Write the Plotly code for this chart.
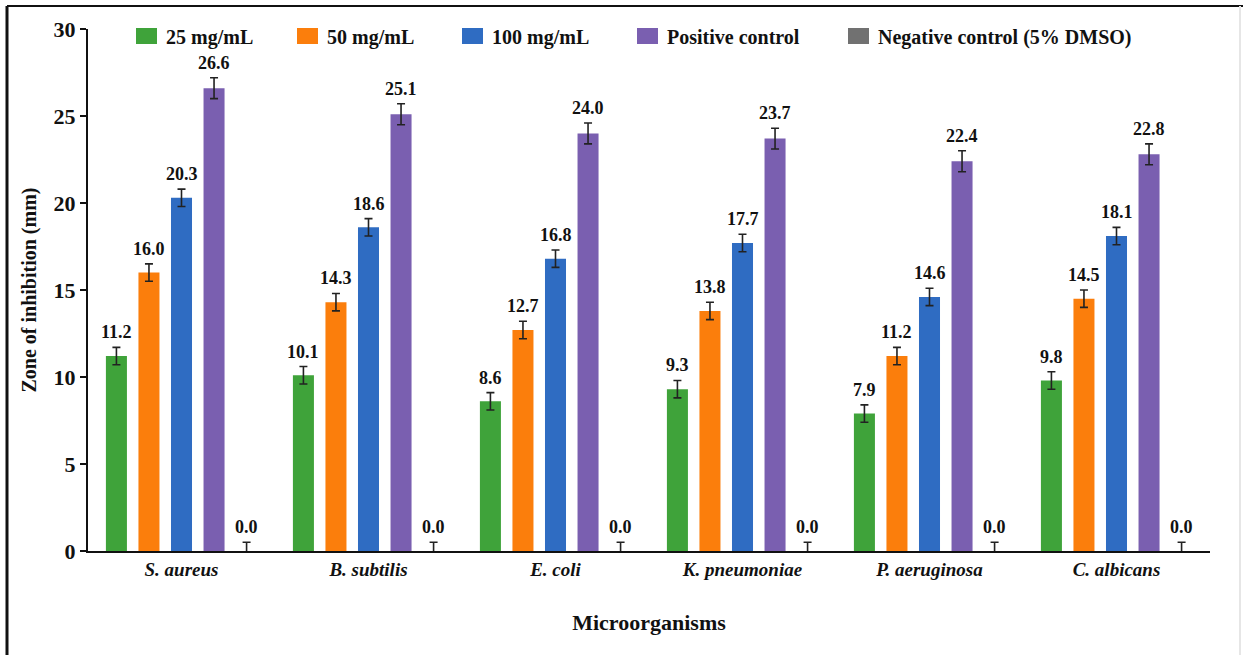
import plotly.graph_objects as go

# Zone of inhibition (mm) per microorganism and treatment
organisms = ["<i>S. aureus</i>", "<i>B. subtilis</i>", "<i>E. coli</i>",
             "<i>K. pneumoniae</i>", "<i>P. aeruginosa</i>", "<i>C. albicans</i>"]

series_names = ["25 mg/mL", "50 mg/mL", "100 mg/mL", "Positive control",
                "Negative control (5% DMSO)"]

conc_25 = [11.2, 10.1, 8.6, 9.3, 7.9, 9.8]
conc_50 = [16.0, 14.3, 12.7, 13.8, 11.2, 14.5]
conc_100 = [20.3, 18.6, 16.8, 17.7, 14.6, 18.1]
positive = [26.6, 25.1, 24.0, 23.7, 22.4, 22.8]
negative = [0.0, 0.0, 0.0, 0.0, 0.0, 0.0]

err_25 = [0.5, 0.5, 0.5, 0.5, 0.5, 0.5]
err_50 = [0.5, 0.5, 0.5, 0.5, 0.5, 0.5]
err_100 = [0.5, 0.5, 0.5, 0.5, 0.5, 0.5]
err_pos = [0.6, 0.6, 0.6, 0.6, 0.6, 0.6]
err_neg = [0.5, 0.5, 0.5, 0.5, 0.5, 0.5]

colors = ["#3fa33a", "#fb7e0c", "#2f6cc2", "#7a5fb0", "#717171"]

values = [conc_25, conc_50, conc_100, positive, negative]
errors = [err_25, err_50, err_100, err_pos, err_neg]

FONT = "Liberation Serif, Times New Roman, serif"
BARGAP = 0.13
BARGROUPGAP = 0.354

fig = go.Figure()
for name, vals, errs, col in zip(series_names, values, errors, colors):
    fig.add_trace(go.Bar(
        x=organisms, y=vals, name=name,
        marker=dict(color=col, line=dict(width=0)),
        error_y=dict(type="data", array=errs, visible=True,
                     color="#222222", thickness=1.6, width=4),
        showlegend=False,
    ))

# value labels above each error bar
n = len(series_names)
slot = (1 - BARGAP) / n
annotations = []
for j, (vals, errs) in enumerate(zip(values, errors)):
    offset = -(1 - BARGAP) / 2 + slot * (j + 0.5)
    for i, (v, e) in enumerate(zip(vals, errs)):
        annotations.append(dict(
            x=i + offset, y=v + e, xref="x", yref="y",
            text=f"{v:.1f}", showarrow=False,
            yanchor="bottom", xanchor="center", yshift=3,
            font=dict(family=FONT, size=18, color="#111111", weight="bold"),
        ))

# legend row across the top of the plot
PLOT_L, PLOT_R, PLOT_T, PLOT_B = 88, 1210, 29, 551
def px_x(p):
    return (p - PLOT_L) / (PLOT_R - PLOT_L)
def px_y(p):
    return (PLOT_B - p) / (PLOT_B - PLOT_T)

legend_x = [136, 297, 462, 637, 848]
shapes = []
for name, col, lx in zip(series_names, colors, legend_x):
    shapes.append(dict(type="rect", xref="paper", yref="paper",
                       x0=px_x(lx), x1=px_x(lx + 21),
                       y0=px_y(44), y1=px_y(28),
                       fillcolor=col, line=dict(width=0)))
    annotations.append(dict(
        x=px_x(lx + 28), y=px_y(37), xref="paper", yref="paper",
        text=name, showarrow=False,
        xanchor="left", yanchor="middle",
        font=dict(family=FONT, size=20, color="#111111", weight="bold"),
    ))

# outer frame
shapes += [
    dict(type="line", xref="paper", yref="paper",
         x0=px_x(7), x1=px_x(1243), y0=px_y(6), y1=px_y(6),
         line=dict(color="#111111", width=2)),
    dict(type="line", xref="paper", yref="paper",
         x0=px_x(7), x1=px_x(7), y0=px_y(6), y1=px_y(660),
         line=dict(color="#111111", width=3)),
    dict(type="line", xref="paper", yref="paper",
         x0=px_x(1240), x1=px_x(1240), y0=px_y(6), y1=px_y(660),
         line=dict(color="#e6e6e6", width=2)),
]

fig.update_layout(
    width=1243, height=655,
    margin=dict(l=PLOT_L, r=1243 - PLOT_R, t=PLOT_T, b=655 - PLOT_B),
    paper_bgcolor="white", plot_bgcolor="white",
    barmode="group", bargap=BARGAP, bargroupgap=BARGROUPGAP,
    font=dict(family=FONT, color="#111111"),
    annotations=annotations, shapes=shapes,
    xaxis=dict(
        showline=True, linecolor="#111111", linewidth=2,
        ticks="", showgrid=False, zeroline=False,
        tickfont=dict(family=FONT, size=19, color="#111111", weight="bold"),
        title=dict(text="Microorganisms", standoff=36,
                   font=dict(family=FONT, size=22, color="#111111",
                             weight="bold")),
    ),
    yaxis=dict(
        range=[0, 30], tickvals=[0, 5, 10, 15, 20, 25, 30],
        showline=True, linecolor="#111111", linewidth=2,
        ticks="outside", ticklen=6, tickwidth=2, tickcolor="#111111",
        showgrid=False, zeroline=False,
        tickfont=dict(family=FONT, size=22, color="#111111", weight="bold"),
        title=dict(text="Zone of inhibition (mm)", standoff=12,
                   font=dict(family=FONT, size=20, color="#111111",
                             weight="bold")),
    ),
)

fig.write_html("out.html")
